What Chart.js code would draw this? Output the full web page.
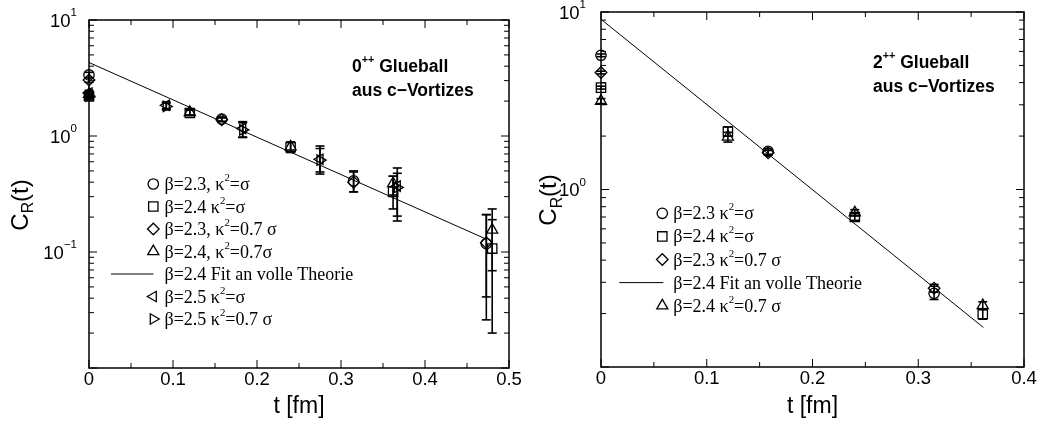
<!DOCTYPE html>
<html>
<head>
<meta charset="utf-8">
<script src="https://cdn.jsdelivr.net/npm/chart.js@4.4.1/dist/chart.umd.min.js"></script>
<style>
  html, body { margin: 0; padding: 0; background: #fff; }
  #wrap { position: relative; width: 1049px; height: 423px; overflow: hidden; }
  canvas { position: absolute; top: 0; }
</style>
</head>
<body>
<div id="wrap">
  <canvas id="glue0" width="530" height="423" style="left:0px"></canvas>
  <canvas id="glue2" width="529" height="423" style="left:520px"></canvas>
</div>
<script>
// time slices (fm) for each coupling
var t23 = [0, 0.158, 0.315, 0.473];
var t24 = [0, 0.12, 0.24, 0.362, 0.48];
var t25 = [0, 0.092, 0.183, 0.275, 0.367];
var t23r = [0, 0.158, 0.315];
var t24r = [0, 0.12, 0.24, 0.361];

// 0++ correlator, values and error bar ends
var c0_23s = [3.36, 1.40, 0.41, 0.118];
var c0_23s_lo = [3.18, 1.34, 0.33, 0.041];
var c0_23s_hi = [3.54, 1.46, 0.50, 0.21];
var c0_24s = [2.2, 1.58, 0.80, 0.33, 0.107];
var c0_24s_lo = [2.1, 1.50, 0.72, 0.235, 0.02];
var c0_24s_hi = [2.3, 1.67, 0.88, 0.45, 0.235];
var c0_23k = [3.04, 1.38, 0.40, 0.12];
var c0_23k_lo = [2.9, 1.33, 0.33, 0.026];
var c0_23k_hi = [3.18, 1.43, 0.49, 0.21];
var c0_24k = [2.3, 1.60, 0.81, 0.39, 0.155];
var c0_24k_lo = [2.2, 1.52, 0.74, 0.31, 0.069];
var c0_24k_hi = [2.4, 1.68, 0.89, 0.45, 0.19];
var c0_25s = [2.35, 1.84, 1.16, 0.63, 0.37];
var c0_25s_lo = [2.22, 1.72, 0.97, 0.47, 0.185];
var c0_25s_hi = [2.48, 1.96, 1.33, 0.82, 0.53];
var c0_25k = [2.2, 1.80, 1.13, 0.62, 0.36];
var c0_25k_lo = [2.08, 1.68, 0.98, 0.49, 0.204];
var c0_25k_hi = [2.32, 1.92, 1.30, 0.78, 0.477];
var fit0T = [0, 0.473];
var fit0C = [4.3, 0.129];

// 2++ correlator
var c2_23s = [5.7, 1.64, 0.26];
var c2_23s_lo = [5.6, 1.58, 0.24];
var c2_23s_hi = [5.8, 1.70, 0.285];
var c2_24s = [3.75, 2.12, 0.70, 0.199];
var c2_24s_lo = [3.68, 2.0, 0.67, 0.186];
var c2_24s_hi = [3.82, 2.25, 0.73, 0.213];
var c2_23k = [4.56, 1.61, 0.278];
var c2_23k_lo = [4.48, 1.56, 0.264];
var c2_23k_hi = [4.64, 1.66, 0.292];
var c2_24k = [3.15, 1.98, 0.74, 0.222];
var c2_24k_lo = [3.05, 1.85, 0.71, 0.21];
var c2_24k_hi = [3.25, 2.1, 0.77, 0.233];
var fit2T = [0, 0.3616];
var fit2C = [9.1, 0.167];

// axes
var x0Major = [0, 0.1, 0.2, 0.3, 0.4, 0.5];
var x0Labels = ['0', '0.1', '0.2', '0.3', '0.4', '0.5'];
var x0Minor = [0.05, 0.15, 0.25, 0.35, 0.45];
var x2Major = [0, 0.1, 0.2, 0.3, 0.4];
var x2Labels = ['0', '0.1', '0.2', '0.3', '0.4'];
var x2Minor = [0.05, 0.15, 0.25, 0.35];
var y0Major = [0.01, 0.1, 1, 10];
var y0Minor = [0.02, 0.03, 0.04, 0.05, 0.06, 0.07, 0.08, 0.09,
               0.2, 0.3, 0.4, 0.5, 0.6, 0.7, 0.8, 0.9,
               2, 3, 4, 5, 6, 7, 8, 9];
var y0LabelVals = [10, 1, 0.1];
var y0Labels = ['10^{1}', '10^{0}', '10^{\u22121}'];
var y2Major = [0.1, 1, 10];
var y2Minor = [0.2, 0.3, 0.4, 0.5, 0.6, 0.7, 0.8, 0.9, 2, 3, 4, 5, 6, 7, 8, 9];
var y2LabelVals = [10, 1];
var y2Labels = ['10^{1}', '10^{0}'];

// legend texts
var leg0 = ['\u03b2=2.3, \u03ba^{2}=\u03c3', '\u03b2=2.4 \u03ba^{2}=\u03c3', '\u03b2=2.3, \u03ba^{2}=0.7 \u03c3',
            '\u03b2=2.4, \u03ba^{2}=0.7\u03c3', '\u03b2=2.4 Fit an volle Theorie',
            '\u03b2=2.5 \u03ba^{2}=\u03c3', '\u03b2=2.5 \u03ba^{2}=0.7 \u03c3'];
var leg2 = ['\u03b2=2.3 \u03ba^{2}=\u03c3', '\u03b2=2.4 \u03ba^{2}=\u03c3', '\u03b2=2.3 \u03ba^{2}=0.7 \u03c3',
            '\u03b2=2.4 Fit an volle Theorie', '\u03b2=2.4 \u03ba^{2}=0.7 \u03c3'];

var SANS = '"Liberation Sans", Arial, Helvetica, sans-serif';
var SERIF = '"Liberation Serif", "Times New Roman", serif';

var CIRCLE = { style: 'circle', r: 5.2, rot: 0 };
var SQUARE = { style: 'rect', r: 6.6, rot: 0 };
var DIAMOND = { style: 'rectRot', r: 5.8, rot: 0 };
var TRI_UP = { style: 'triangle', r: 6.4, rot: 0 };
var TRI_LEFT = { style: 'triangle', r: 6, rot: -90 };
var TRI_RIGHT = { style: 'triangle', r: 6, rot: 90 };

// split "a^{b}c_{d}" into plain / super / sub pieces
function parseRich(s) {
  var out = [], re = /([\^_])\{([^}]*)\}/g, last = 0, m;
  while ((m = re.exec(s))) {
    if (m.index > last) out.push({ t: s.slice(last, m.index), k: '' });
    out.push({ t: m[2], k: m[1] });
    last = re.lastIndex;
  }
  if (last < s.length) out.push({ t: s.slice(last), k: '' });
  return out;
}

function richText(ctx, s, x, y, o) {
  var parts = parseRich(s);
  var w = 0;
  parts.forEach(function (p) {
    var sz = p.k ? o.size * (o.scale || 0.62) : o.size;
    p.font = (o.weight || 'normal') + ' ' + sz.toFixed(1) + 'px ' + o.family;
    ctx.font = p.font;
    p.w = ctx.measureText(p.t).width;
    w += p.w;
  });
  var cx = o.align === 'right' ? x - w : (o.align === 'center' ? x - w / 2 : x);
  ctx.textAlign = 'left';
  ctx.textBaseline = 'alphabetic';
  parts.forEach(function (p) {
    ctx.font = p.font;
    var dy = p.k === '^' ? -o.size * (o.rise || 0.45) : (p.k === '_' ? o.size * (o.drop || 0.22) : 0);
    ctx.fillText(p.t, cx, y + dy);
    cx += p.w;
  });
}

function mark(ctx, m, x, y) {
  ctx.save();
  ctx.strokeStyle = '#000';
  ctx.fillStyle = 'rgba(0,0,0,0)';
  ctx.lineWidth = 1.3;
  Chart.helpers.drawPoint(ctx, { pointStyle: m.style, radius: m.r, rotation: m.rot, borderWidth: 1.3 }, x, y);
  ctx.restore();
}

function line(ctx, x1, y1, x2, y2) {
  ctx.beginPath();
  ctx.moveTo(x1, y1);
  ctx.lineTo(x2, y2);
  ctx.stroke();
}

function panelPlugin(cfg) {
  return {
    id: 'panel',
    beforeDatasetsDraw: function (chart) {
      var ctx = chart.ctx, xs = chart.scales.x, ys = chart.scales.y;
      ctx.save();
      ctx.strokeStyle = '#000';
      ctx.lineWidth = 1.6;
      cfg.series.forEach(function (s) {
        s.t.forEach(function (t, i) {
          var x = xs.getPixelForValue(t);
          var y1 = ys.getPixelForValue(s.lo[i]);
          var y2 = ys.getPixelForValue(s.hi[i]);
          line(ctx, x, y1, x, y2);
          line(ctx, x - 4.5, y1, x + 4.5, y1);
          line(ctx, x - 4.5, y2, x + 4.5, y2);
        });
      });
      ctx.restore();
    },
    afterDraw: function (chart) {
      var ctx = chart.ctx, a = chart.chartArea, xs = chart.scales.x, ys = chart.scales.y;
      ctx.save();
      ctx.strokeStyle = '#000';
      ctx.fillStyle = '#000';

      // frame with inward ticks on all four sides
      ctx.lineWidth = 1.5;
      ctx.strokeRect(a.left, a.top, a.right - a.left, a.bottom - a.top);
      ctx.lineWidth = 1;
      cfg.xMajor.forEach(function (v) {
        var x = xs.getPixelForValue(v);
        line(ctx, x, a.bottom, x, a.bottom - 8);
        line(ctx, x, a.top, x, a.top + 8);
      });
      cfg.xMinor.forEach(function (v) {
        var x = xs.getPixelForValue(v);
        line(ctx, x, a.bottom, x, a.bottom - 5);
        line(ctx, x, a.top, x, a.top + 5);
      });
      cfg.yMajor.forEach(function (v) {
        var y = ys.getPixelForValue(v);
        line(ctx, a.left, y, a.left + 8, y);
        line(ctx, a.right, y, a.right - 8, y);
      });
      cfg.yMinor.forEach(function (v) {
        var y = ys.getPixelForValue(v);
        line(ctx, a.left, y, a.left + 5, y);
        line(ctx, a.right, y, a.right - 5, y);
      });

      // tick labels
      cfg.xMajor.forEach(function (v, i) {
        richText(ctx, cfg.xLabels[i], xs.getPixelForValue(v), a.bottom + 17,
                 { size: 18.5, family: SANS, align: 'center' });
      });
      cfg.yLabelVals.forEach(function (v, i) {
        richText(ctx, cfg.yLabels[i], a.left - cfg.yLabelGap, ys.getPixelForValue(v) + 6.5,
                 { size: 18.5, family: SANS, align: 'right', scale: 0.62, rise: 0.55 });
      });

      // axis titles
      richText(ctx, 't [fm]', (a.left + a.right) / 2, 413, { size: 23, family: SANS, align: 'center' });
      ctx.save();
      ctx.translate(cfg.yTitle[0], cfg.yTitle[1]);
      ctx.rotate(-Math.PI / 2);
      richText(ctx, 'C_{R}(t)', 0, 8.5, { size: 24, family: SANS, align: 'center', scale: 0.66, drop: 0.24 });
      ctx.restore();

      // channel annotation
      richText(ctx, cfg.title[0], cfg.titlePos[0], cfg.titlePos[1],
               { size: 17.5, family: SANS, weight: 'bold', scale: 0.62, rise: 0.5 });
      richText(ctx, cfg.title[1], cfg.titlePos[0], cfg.titlePos[1] + 24,
               { size: 17.5, family: SANS, weight: 'bold' });

      // legend
      var L = cfg.legend;
      L.items.forEach(function (it, i) {
        var y = L.y0 + i * L.dy;
        if (it.line) {
          ctx.lineWidth = 1;
          line(ctx, L.lineX[0], y, L.lineX[1], y);
        } else {
          mark(ctx, it.m, L.markX, y);
        }
        ctx.fillStyle = '#000';
        richText(ctx, it.label, L.textX, y + 6, { size: 18, family: SERIF, scale: 0.6, rise: 0.5 });
      });
      ctx.restore();
    }
  };
}

function makePanel(id, cfg) {
  var datasets = cfg.series.map(function (s) {
    return {
      label: s.name,
      data: s.t.map(function (t, i) { return { x: t, y: s.c[i] }; }),
      showLine: false,
      clip: false,
      pointStyle: s.m.style,
      pointRadius: s.m.r,
      pointRotation: s.m.rot,
      pointBorderWidth: 1.3,
      pointBorderColor: '#000',
      pointBackgroundColor: 'rgba(0,0,0,0)'
    };
  });
  datasets.push({
    label: 'fit',
    data: cfg.fitT.map(function (t, i) { return { x: t, y: cfg.fitC[i] }; }),
    showLine: true,
    clip: false,
    borderColor: '#000',
    borderWidth: 1,
    pointRadius: 0
  });
  return new Chart(document.getElementById(id).getContext('2d'), {
    type: 'scatter',
    data: { datasets: datasets },
    options: {
      responsive: false,
      animation: false,
      events: [],
      layout: { padding: cfg.pad },
      plugins: { legend: { display: false }, tooltip: { enabled: false } },
      scales: {
        x: { type: 'linear', min: 0, max: cfg.xMax, display: false },
        y: { type: 'logarithmic', min: cfg.yMin, max: 10, display: false }
      }
    },
    plugins: [panelPlugin(cfg)]
  });
}

// 0++ panel
var cfg0 = {
  pad: { left: 89, right: 21, top: 20, bottom: 55 },
  xMax: 0.5, yMin: 0.01,
  xMajor: x0Major, xLabels: x0Labels, xMinor: x0Minor,
  yMajor: y0Major, yMinor: y0Minor, yLabelVals: y0LabelVals, yLabels: y0Labels, yLabelGap: 12,
  yTitle: [19, 205],
  title: ['0^{++} Glueball', 'aus c\u2212Vortizes'], titlePos: [352, 72],
  fitT: fit0T, fitC: fit0C,
  series: [
    { name: leg0[0], m: CIRCLE, t: t23, c: c0_23s, lo: c0_23s_lo, hi: c0_23s_hi },
    { name: leg0[1], m: SQUARE, t: t24, c: c0_24s, lo: c0_24s_lo, hi: c0_24s_hi },
    { name: leg0[2], m: DIAMOND, t: t23, c: c0_23k, lo: c0_23k_lo, hi: c0_23k_hi },
    { name: leg0[3], m: TRI_UP, t: t24, c: c0_24k, lo: c0_24k_lo, hi: c0_24k_hi },
    { name: leg0[5], m: TRI_LEFT, t: t25, c: c0_25s, lo: c0_25s_lo, hi: c0_25s_hi },
    { name: leg0[6], m: TRI_RIGHT, t: t25, c: c0_25k, lo: c0_25k_lo, hi: c0_25k_hi }
  ],
  legend: {
    y0: 184, dy: 22.5, markX: 153.3, textX: 164.5, lineX: [111, 153.5],
    items: [
      { label: leg0[0], m: CIRCLE }, { label: leg0[1], m: SQUARE }, { label: leg0[2], m: DIAMOND },
      { label: leg0[3], m: TRI_UP }, { label: leg0[4], line: true },
      { label: leg0[5], m: TRI_LEFT }, { label: leg0[6], m: TRI_RIGHT }
    ]
  }
};

// 2++ panel
var cfg2 = {
  pad: { left: 81, right: 25, top: 12, bottom: 56 },
  xMax: 0.4, yMin: 0.1,
  xMajor: x2Major, xLabels: x2Labels, xMinor: x2Minor,
  yMajor: y2Major, yMinor: y2Minor, yLabelVals: y2LabelVals, yLabels: y2Labels, yLabelGap: 15,
  yTitle: [27.5, 200],
  title: ['2^{++} Glueball', 'aus c\u2212Vortizes'], titlePos: [353, 68],
  fitT: fit2T, fitC: fit2C,
  series: [
    { name: leg2[0], m: CIRCLE, t: t23r, c: c2_23s, lo: c2_23s_lo, hi: c2_23s_hi },
    { name: leg2[1], m: SQUARE, t: t24r, c: c2_24s, lo: c2_24s_lo, hi: c2_24s_hi },
    { name: leg2[2], m: DIAMOND, t: t23r, c: c2_23k, lo: c2_23k_lo, hi: c2_23k_hi },
    { name: leg2[4], m: TRI_UP, t: t24r, c: c2_24k, lo: c2_24k_lo, hi: c2_24k_hi }
  ],
  legend: {
    y0: 213.3, dy: 23.1, markX: 142.3, textX: 153.3, lineX: [99.3, 143.3],
    items: [
      { label: leg2[0], m: CIRCLE }, { label: leg2[1], m: SQUARE }, { label: leg2[2], m: DIAMOND },
      { label: leg2[3], line: true }, { label: leg2[4], m: TRI_UP }
    ]
  }
};

makePanel('glue0', cfg0);
makePanel('glue2', cfg2);
</script>
</body>
</html>
